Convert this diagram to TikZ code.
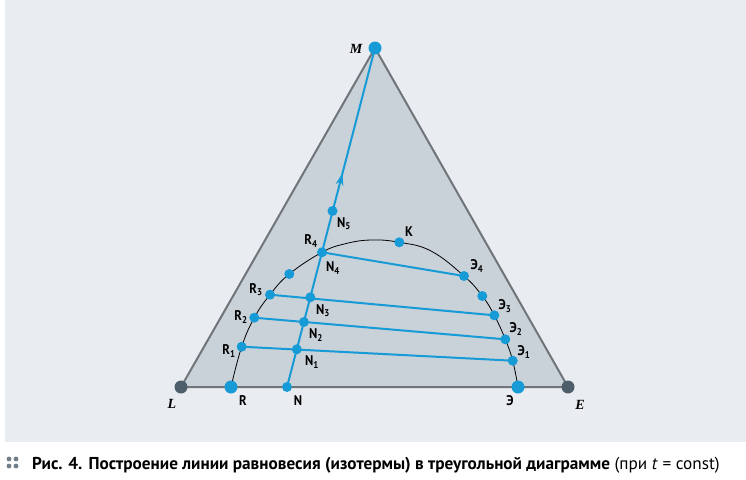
\documentclass[tikz,border=0pt]{standalone}
\usepackage{fontspec}
\setmainfont{PT Sans}
\newfontfamily\condfont{PT Sans}[FakeStretch=0.9]
\newfontfamily\vertfont{Liberation Serif}
\usetikzlibrary{arrows.meta,decorations.markings}

\definecolor{bgcol}{RGB}{233,236,240}
\definecolor{trifill}{RGB}{201,209,217}
\definecolor{edgecol}{RGB}{112,117,122}
\definecolor{tieblue}{RGB}{22,155,214}
\definecolor{cornercol}{RGB}{78,94,106}

\tikzset{
  dot/.style={circle,fill=tieblue,inner sep=0pt,minimum size=10pt},
  bigdot/.style={circle,fill=tieblue,inner sep=0pt,minimum size=13pt},
  cornerdot/.style={circle,fill=cornercol,inner sep=0pt,minimum size=13pt},
  lbl/.style={font=\condfont\bfseries\fontsize{14}{15}\selectfont,inner sep=0pt},
  vlbl/.style={font=\vertfont\bfseries\itshape\fontsize{14}{15}\selectfont,inner sep=0pt},
  tie/.style={tieblue,line width=2pt},
}

\begin{document}
\begin{tikzpicture}[x=1pt,y=-1pt]
\useasboundingbox (0,0) rectangle (746,479);
\fill[bgcol] (5,0) rectangle (746,442);

% Triangle
\fill[trifill] (181,387) -- (568,387) -- (375,48) -- cycle;
\draw[edgecol,line width=2pt,line join=round] (181,387) -- (568,387) -- (375,48) -- cycle;

% Points of the binodal curve
\coordinate (R) at (231,387);
\coordinate (R1) at (241.7,346.7);
\coordinate (R2) at (254.3,317.7);
\coordinate (R3) at (270,294.7);
\coordinate (Rx) at (289.3,274);
\coordinate (R4) at (322,252.3);
\coordinate (top1) at (345,243.8);
\coordinate (top2) at (371,240);
\coordinate (K) at (399.3,242.3);
\coordinate (Kx) at (431,251);
\coordinate (E4) at (464,276);
\coordinate (Ex) at (482.3,296);
\coordinate (E3) at (494.3,315.3);
\coordinate (E2) at (505.3,339.3);
\coordinate (E1) at (512.7,360.7);
\coordinate (E0) at (518,387);

% Binodal curve
\draw[black,line width=0.8pt] plot[smooth,tension=0.7] coordinates
  {(R) (R1) (R2) (R3) (Rx) (R4) (top1) (top2) (K) (Kx) (E4) (Ex) (E3) (E2) (E1) (E0)};

% Points on the line N -- M
\coordinate (N) at (287,387);
\coordinate (N1) at (296.8,349.3);
\coordinate (N2) at (303.9,322);
\coordinate (N3) at (310.3,297.3);
\coordinate (N5) at (332.5,211);
\coordinate (M) at (375,48);
\draw[tie,decoration={markings,mark=at position 0.63 with {\arrow{Stealth[length=12pt,width=8pt,inset=4pt]}}},postaction={decorate}]
  (N) -- (M);

% Tie lines
\draw[tie] (R1) -- (E1);
\draw[tie] (R2) -- (E2);
\draw[tie] (R3) -- (E3);
\draw[tie] (R4) -- (E4);

% Dots
\foreach \p in {R1,R2,R3,Rx,R4,K,E4,Ex,E3,E2,E1,N,N1,N2,N3,N5}
  \node[dot] (d\p) at (\p) {};
\node[bigdot] (dR) at (R) {};
\node[bigdot] (dE0) at (E0) {};
\node[bigdot] (dM) at (M) {};

% Vertices
\node[cornerdot] (L) at (181,387) {};
\node[cornerdot] (E) at (568,387) {};

% Labels
\node[vlbl] (tM) at (356,49) {M};
\node[vlbl] (tL) at (172,404) {L};
\node[vlbl] (tE) at (580,405) {E};
\node[lbl] (tR) at (243,401) {R};
\node[lbl] (tN) at (298,401) {N};
\node[lbl] (tE0) at (510,401) {Э};
\node[lbl] (tR1) at (229,351) {R\textsubscript{1}};
\node[lbl] (tR2) at (241,317) {R\textsubscript{2}};
\node[lbl] (tR3) at (256,290) {R\textsubscript{3}};
\node[lbl] (tR4) at (311,241) {R\textsubscript{4}};
\node[lbl] (tN1) at (312,362) {N\textsubscript{1}};
\node[lbl] (tN2) at (316,335) {N\textsubscript{2}};
\node[lbl] (tN3) at (323,311) {N\textsubscript{3}};
\node[lbl] (tN4) at (333,268) {N\textsubscript{4}};
\node[lbl] (tN5) at (344,224) {N\textsubscript{5}};
\node[lbl] (tK) at (409,232) {K};
\node[lbl] (tE1) at (524,352) {Э\textsubscript{1}};
\node[lbl] (tE2) at (516,329) {Э\textsubscript{2}};
\node[lbl] (tE3) at (505,306) {Э\textsubscript{3}};
\node[lbl] (tE4) at (477,266) {Э\textsubscript{4}};

% Caption
\foreach \i/\j in {9/459,16/459,9/466,16/466}
  \fill[cornercol!80] (\i,\j) circle (2.4pt);
\node[anchor=base west,inner sep=0pt,font=\fontsize{17.2}{19}\selectfont] (cap) at (32,469)
  {\textbf{Рис. 4.} \textbf{Построение линии равновесия (изотермы) в треугольной диаграмме} (при \textit{t} = const)};
\end{tikzpicture}
\end{document}
